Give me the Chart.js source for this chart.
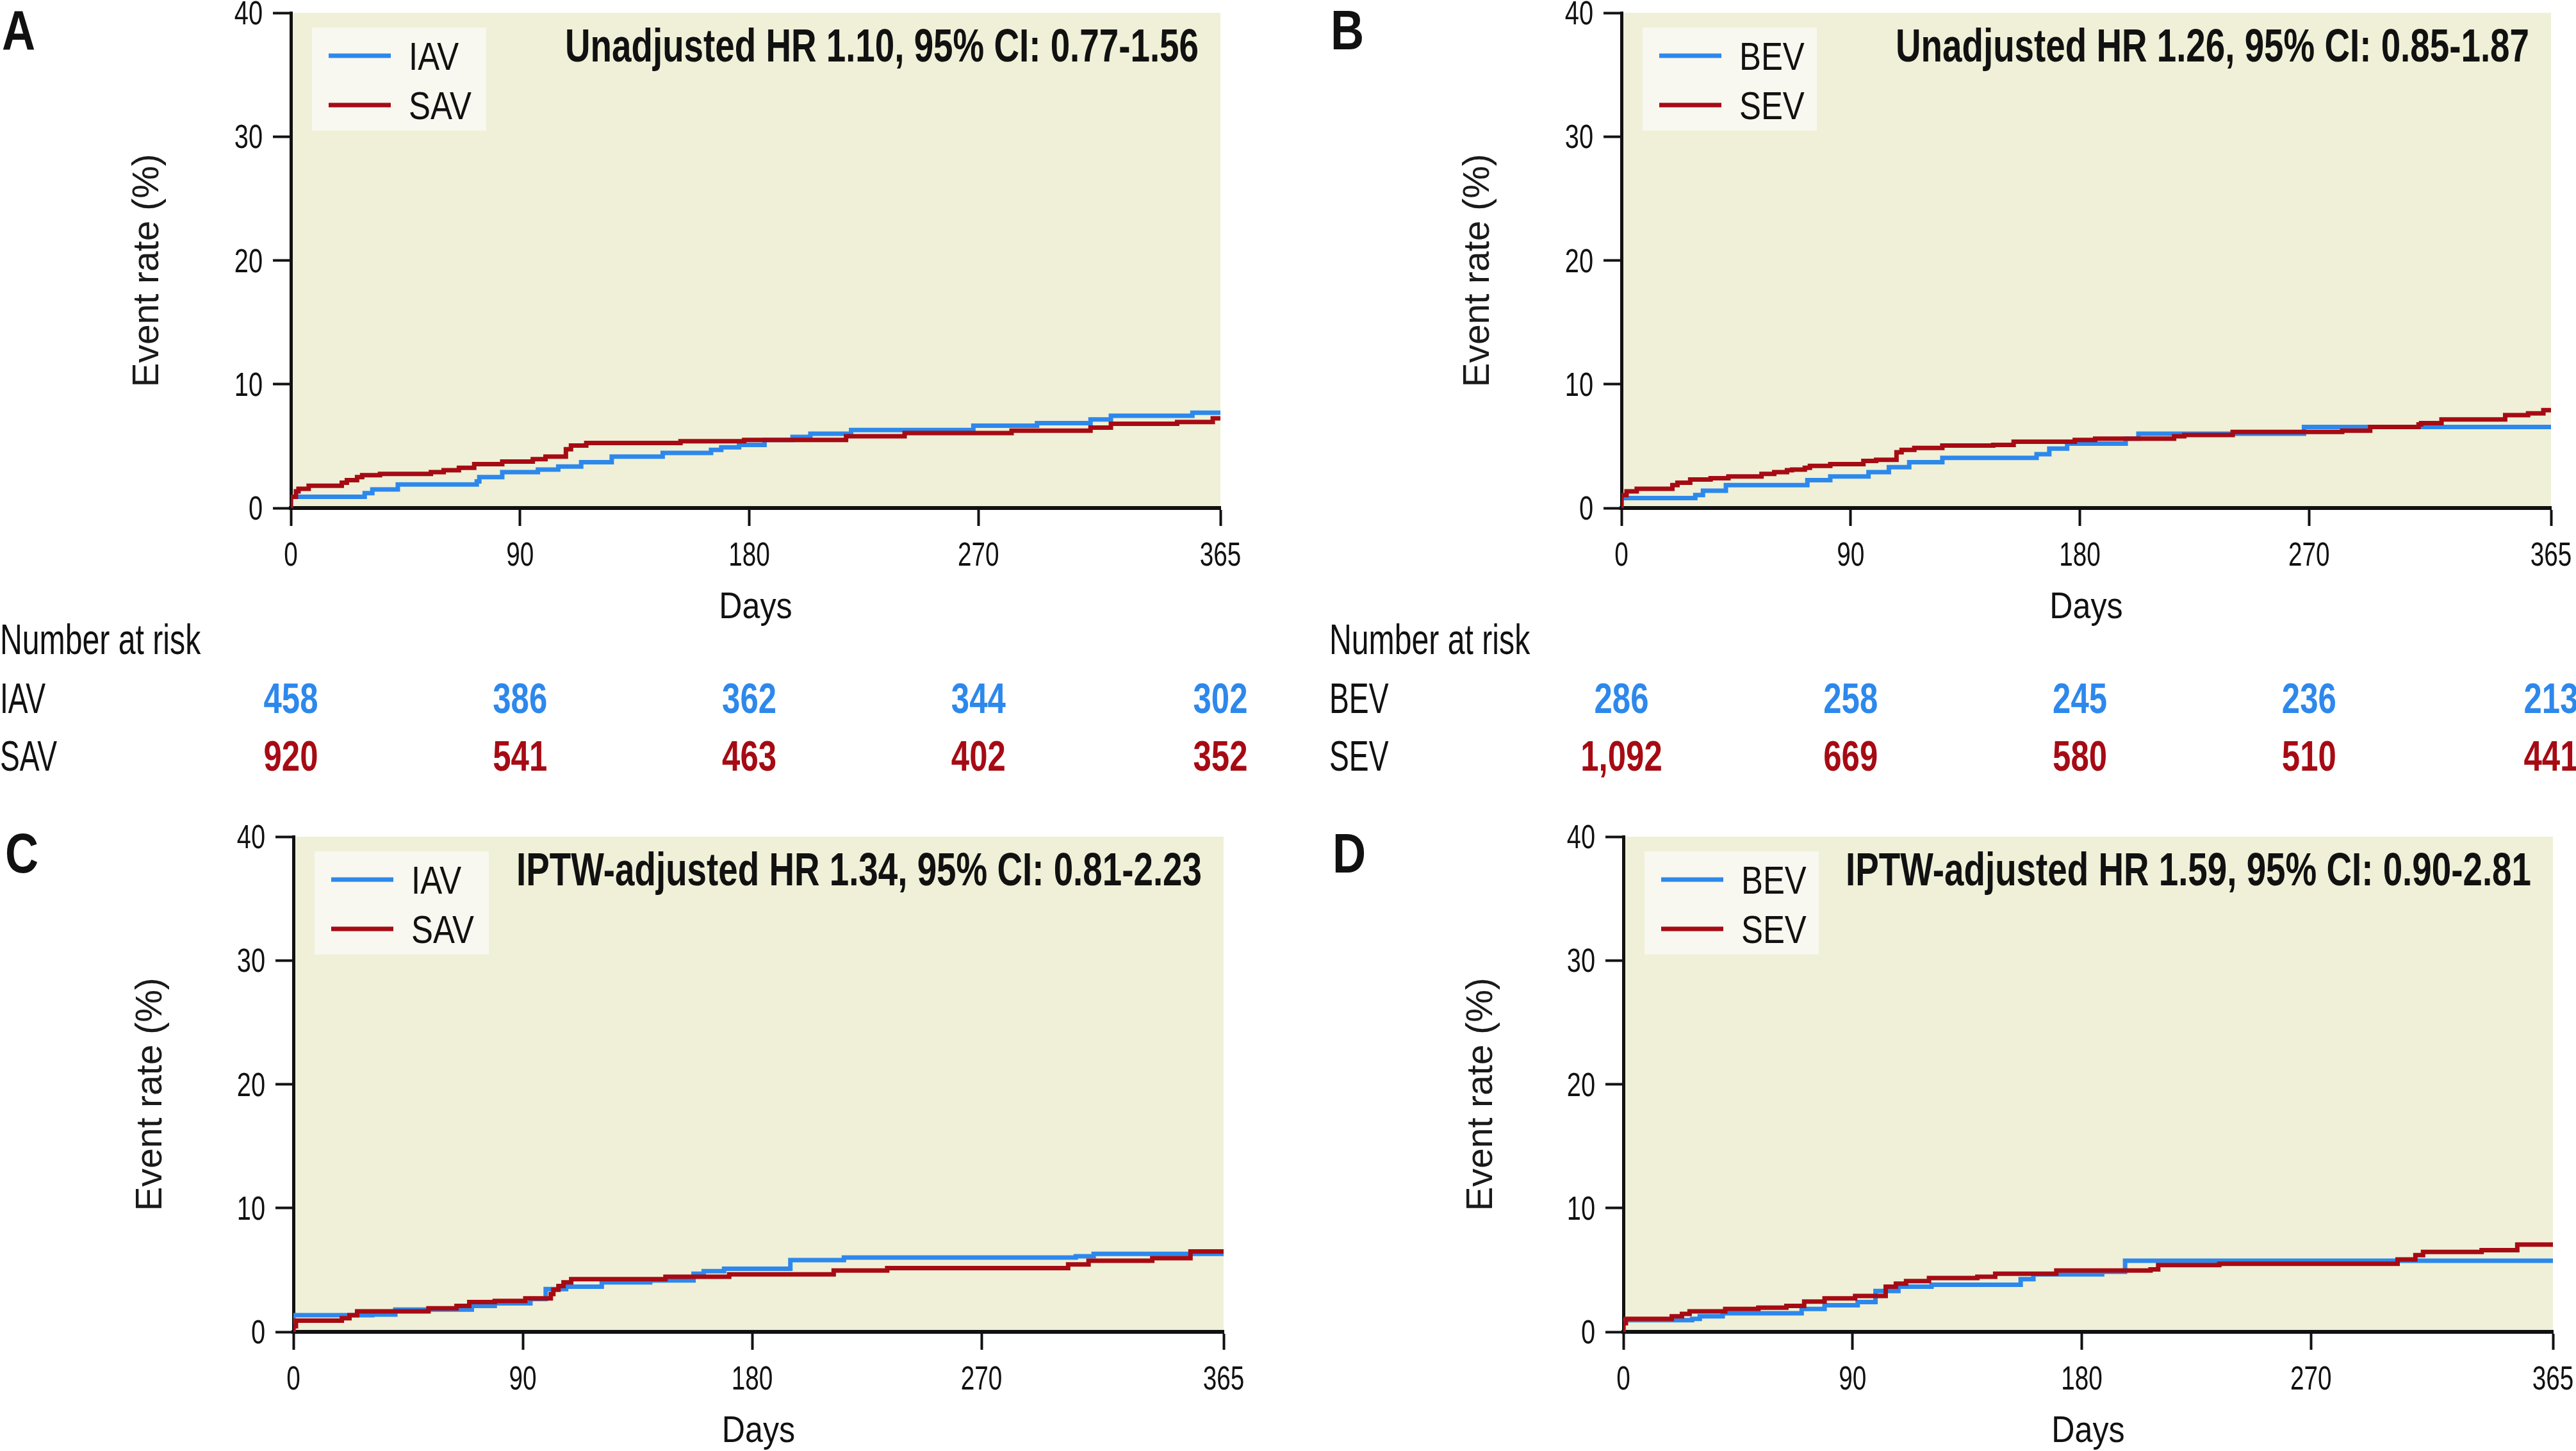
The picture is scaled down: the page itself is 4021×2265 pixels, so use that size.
<!DOCTYPE html>
<html>
<head>
<meta charset="utf-8">
<title>Event rate curves</title>
<script src="https://cdn.jsdelivr.net/npm/chart.js@4.4.1/dist/chart.umd.min.js"></script>
<style>
  body { margin: 0; background: #fff; }
  #page { position: relative; width: 4021px; height: 2265px; overflow: hidden; background: #fff; }
  canvas { position: absolute; }
</style>
</head>
<body>
<div id="page">
  <canvas id="panel-a" width="2010" height="1240" style="left:0;top:0"></canvas>
  <canvas id="panel-b" width="1956" height="1240" style="left:2065px;top:0"></canvas>
  <canvas id="panel-c" width="2010" height="1020" style="left:0;top:1245px"></canvas>
  <canvas id="panel-d" width="1956" height="1020" style="left:2065px;top:1245px"></canvas>
</div>
<script>
// axis ticks and risk table columns (days)
const tickDays = [0, 90, 180, 270, 365];

// A: unadjusted, IAV vs SAV (step points)
const aIavDays = [0, 0, 29, 32, 42, 73, 74, 83, 97, 105, 114, 126, 146, 165, 169, 176, 186, 197, 204, 220, 268, 293, 314, 322, 354, 365];
const aIavRate = [0, 0.9, 1.2, 1.5, 1.9, 2.15, 2.5, 2.9, 3.1, 3.35, 3.7, 4.15, 4.45, 4.7, 4.9, 5.1, 5.5, 5.75, 6.0, 6.3, 6.65, 6.85, 7.15, 7.45, 7.7, 7.7];
const aSavDays = [0, 0, 2, 3, 7, 20, 22, 26, 28, 35, 55, 60, 66, 72, 83, 95, 100, 108, 110, 116, 153, 178, 218, 241, 283, 314, 322, 348, 362, 365];
const aSavRate = [0, 0.9, 1.35, 1.55, 1.8, 2.05, 2.25, 2.5, 2.65, 2.75, 2.9, 3.05, 3.25, 3.55, 3.75, 3.95, 4.15, 4.75, 5.05, 5.25, 5.4, 5.5, 5.8, 6.05, 6.25, 6.5, 6.8, 6.95, 7.25, 7.25];

// B: unadjusted, BEV vs SEV
const bBevDays = [0, 0, 29, 32, 41, 73, 82, 97, 105, 113, 126, 163, 168, 175, 198, 203, 268, 365];
const bBevRate = [0, 0.8, 1.05, 1.4, 1.85, 2.25, 2.55, 2.9, 3.3, 3.7, 4.05, 4.35, 4.8, 5.2, 5.6, 6.0, 6.55, 6.55];
const bSevDays = [0, 0, 2, 6, 20, 22, 27, 35, 42, 55, 60, 65, 67, 72, 74, 82, 95, 100, 108, 110, 115, 126, 146, 154, 178, 186, 217, 221, 240, 283, 294, 313, 314, 322, 347, 356, 362, 365];
const bSevRate = [0, 1.05, 1.35, 1.55, 1.85, 2.05, 2.3, 2.4, 2.55, 2.75, 2.9, 3.05, 3.1, 3.25, 3.4, 3.55, 3.8, 3.9, 4.5, 4.7, 4.85, 5.05, 5.1, 5.35, 5.5, 5.6, 5.8, 5.9, 6.15, 6.25, 6.55, 6.75, 6.85, 7.15, 7.5, 7.65, 7.9, 7.9];

// C: IPTW-adjusted, IAV vs SAV
const cIavDays = [0, 0, 31, 40, 70, 79, 93, 99, 107, 121, 140, 157, 161, 169, 195, 216, 307, 314, 365];
const cIavRate = [0, 1.35, 1.4, 1.8, 2.1, 2.3, 2.65, 3.45, 3.65, 4.0, 4.15, 4.7, 4.9, 5.1, 5.8, 6.0, 6.1, 6.3, 6.3];
const cSavDays = [0, 0, 1, 19, 22, 25, 53, 64, 69, 79, 91, 101, 102, 104, 106, 109, 146, 171, 212, 233, 304, 312, 337, 352, 365];
const cSavRate = [0, 0.45, 0.9, 1.1, 1.35, 1.65, 1.9, 2.1, 2.4, 2.5, 2.7, 3.05, 3.4, 3.7, 4.0, 4.25, 4.45, 4.65, 4.95, 5.15, 5.45, 5.75, 5.95, 6.5, 6.5];

// D: IPTW-adjusted, BEV vs SEV
const dBevDays = [0, 0, 27, 30, 39, 70, 79, 92, 99, 108, 121, 156, 161, 188, 197, 365];
const dBevRate = [0, 0.95, 1.05, 1.25, 1.5, 1.85, 2.15, 2.4, 3.3, 3.65, 3.8, 4.25, 4.65, 4.85, 5.75, 5.75];
const dSevDays = [0, 0, 1, 19, 23, 26, 40, 53, 64, 71, 79, 91, 103, 107, 111, 120, 139, 146, 170, 207, 210, 234, 304, 311, 314, 337, 351, 365];
const dSevRate = [0, 0.7, 1.05, 1.25, 1.45, 1.65, 1.85, 1.95, 2.1, 2.45, 2.7, 2.9, 3.65, 3.9, 4.1, 4.35, 4.45, 4.7, 4.95, 5.05, 5.4, 5.5, 5.85, 6.2, 6.45, 6.6, 7.05, 7.05];

// number at risk at tickDays
const riskIav = [458, 386, 362, 344, 302];
const riskSav = [920, 541, 463, 402, 352];
const riskBev = [286, 258, 245, 236, 213];
const riskSev = [1092, 669, 580, 510, 441];

// no condensed face is installed, so condensed text is Liberation Sans squeezed sideways
const SANS = '"Liberation Sans", Arial, sans-serif';
const BLUE = '#2d88ec';
const RED = '#a60b14';
const INK = '#111111';
const PLOT_BG = '#eff0d7';
const LEGEND_BG = '#f8f8f0';

function toPoints(days, rate) {
  return days.map((d, i) => ({ x: d, y: rate[i] }));
}

function drawText(ctx, text, x, y, font, color, align, squeeze) {
  ctx.save();
  ctx.font = font;
  ctx.fillStyle = color;
  ctx.textAlign = align || 'left';
  ctx.textBaseline = 'alphabetic';
  ctx.translate(x, y);
  ctx.scale(squeeze || 1, 1);
  ctx.fillText(text, 0, 0);
  ctx.restore();
}

// light olive fill behind the curves
const plotBackground = {
  id: 'plotBackground',
  beforeDraw(chart) {
    const { ctx, chartArea: a } = chart;
    ctx.save();
    ctx.fillStyle = PLOT_BG;
    ctx.fillRect(a.left, a.top, a.right - a.left, a.bottom - a.top);
    ctx.restore();
  }
};

// tick labels and x title, condensed, placed from the chart's own scales
const axisText = {
  id: 'axisText',
  afterDraw(chart, args, opts) {
    const { ctx, chartArea: a } = chart;
    const xs = chart.scales.x;
    const ys = chart.scales.y;
    xs.ticks.forEach((t) => {
      drawText(ctx, String(t.value), xs.getPixelForValue(t.value), a.bottom + 90, `51px ${SANS}`, INK, 'center', 0.76);
    });
    ys.ticks.forEach((t) => {
      drawText(ctx, String(t.value), a.left - 44, ys.getPixelForValue(t.value) + 18, `51px ${SANS}`, INK, 'right', 0.78);
    });
    drawText(ctx, opts.xTitle, (a.left + a.right) / 2, a.bottom + 172, `57px ${SANS}`, INK, 'center', 0.88);
  }
};

// panel letter, HR text and the boxed legend
const panelDecor = {
  id: 'panelDecor',
  afterDraw(chart, args, opts) {
    const { ctx, chartArea: a } = chart;
    drawText(ctx, opts.letter, opts.letterX, opts.letterY, `bold 88px ${SANS}`, INK, 'left', 0.82);
    drawText(ctx, opts.hr, a.right - 34, a.top + 76, `bold 73px ${SANS}`, INK, 'right', 0.75);

    const bx = a.left + 33;
    const by = a.top + 23;
    ctx.save();
    ctx.fillStyle = LEGEND_BG;
    ctx.fillRect(bx, by, 272, 161);
    chart.data.datasets.forEach((ds, i) => {
      const ly = by + 44 + i * 77;
      ctx.strokeStyle = ds.borderColor;
      ctx.lineWidth = 7;
      ctx.beginPath();
      ctx.moveTo(bx + 26, ly);
      ctx.lineTo(bx + 123, ly);
      ctx.stroke();
      drawText(ctx, ds.label, bx + 151, ly + 22, `62px ${SANS}`, INK, 'left', 0.82);
    });
    ctx.restore();
  }
};

// "Number at risk" rows under the top panels, placed on the x scale
const riskTable = {
  id: 'riskTable',
  afterDraw(chart, args, opts) {
    if (!opts.rows) return;
    const { ctx } = chart;
    const xs = chart.scales.x;
    drawText(ctx, 'Number at risk', opts.labelX, opts.headerY, `66px ${SANS}`, INK, 'left', 0.73);
    opts.rows.forEach((row, i) => {
      const y = opts.rowY[i];
      drawText(ctx, row.name, opts.labelX, y, `66px ${SANS}`, INK, 'left', 0.7);
      row.counts.forEach((n, j) => {
        drawText(ctx, n.toLocaleString('en-US'), xs.getPixelForValue(tickDays[j]), y,
          `bold 67px ${SANS}`, row.color, 'center', 0.76);
      });
    });
  }
};

function populatePanel(canvasId, p) {
  const canvas = document.getElementById(canvasId);
  const area = p.area;
  const tickMarks = { display: true, drawOnChartArea: false, drawTicks: true, tickLength: 28, tickWidth: 4, tickColor: INK };
  new Chart(canvas, {
    type: 'line',
    data: {
      datasets: [
        {
          label: p.names[0],
          data: toPoints(p.blue[0], p.blue[1]),
          borderColor: BLUE,
          borderWidth: 7,
          stepped: true,
          pointRadius: 0,
          fill: false,
          order: 2,
        },
        {
          label: p.names[1],
          data: toPoints(p.red[0], p.red[1]),
          borderColor: RED,
          borderWidth: 7,
          stepped: true,
          pointRadius: 0,
          fill: false,
          order: 1,
        },
      ],
    },
    options: {
      responsive: false,
      animation: false,
      events: [],
      layout: {
        autoPadding: false,
        padding: {
          left: 0,
          top: area.top,
          right: canvas.width - area.right,
          bottom: canvas.height - area.bottom - p.xAxisHeight,
        },
      },
      scales: {
        x: {
          type: 'linear',
          min: 0,
          max: 365,
          afterBuildTicks: (s) => { s.ticks = tickDays.map((v) => ({ value: v })); },
          afterFit: (s) => { s.height = p.xAxisHeight; },
          border: { display: true, color: INK, width: 6 },
          grid: tickMarks,
          ticks: { display: false },
        },
        y: {
          min: 0,
          max: 40,
          afterFit: (s) => { s.width = area.left; },
          border: { display: true, color: INK, width: 5 },
          grid: tickMarks,
          ticks: { display: false, stepSize: 10 },
          title: {
            display: true,
            // trailing spaces nudge the centred title toward the bottom, as in the source
            text: 'Event rate (%)  ',
            color: '#1a1a1a',
            font: { family: SANS, size: 57, lineHeight: 1.2 },
            padding: { top: p.yTitlePad, bottom: 0 },
          },
        },
      },
      plugins: {
        legend: { display: false },
        tooltip: { enabled: false },
        axisText: { xTitle: 'Days' },
        panelDecor: { letter: p.letter, letterX: p.letterX, letterY: p.letterY, hr: p.hr },
        riskTable: p.risk || {},
      },
    },
    plugins: [plotBackground, axisText, panelDecor, riskTable],
  });
}

populatePanel('panel-a', {
  letter: 'A', letterX: 3, letterY: 77,
  hr: 'Unadjusted HR 1.10, 95% CI: 0.77-1.56',
  names: ['IAV', 'SAV'],
  blue: [aIavDays, aIavRate],
  red: [aSavDays, aSavRate],
  area: { left: 454, right: 1905, top: 20, bottom: 793 },
  xAxisHeight: 190,
  yTitlePad: 197,
  risk: {
    labelX: 0, headerY: 1021, rowY: [1113, 1203],
    rows: [
      { name: 'IAV', counts: riskIav, color: BLUE },
      { name: 'SAV', counts: riskSav, color: RED },
    ],
  },
});

populatePanel('panel-b', {
  letter: 'B', letterX: 12, letterY: 77,
  hr: 'Unadjusted HR 1.26, 95% CI: 0.85-1.87',
  names: ['BEV', 'SEV'],
  blue: [bBevDays, bBevRate],
  red: [bSevDays, bSevRate],
  area: { left: 466, right: 1917, top: 20, bottom: 793 },
  xAxisHeight: 190,
  yTitlePad: 209,
  risk: {
    labelX: 10, headerY: 1021, rowY: [1113, 1203],
    rows: [
      { name: 'BEV', counts: riskBev, color: BLUE },
      { name: 'SEV', counts: riskSev, color: RED },
    ],
  },
});

populatePanel('panel-c', {
  letter: 'C', letterX: 8, letterY: 117,
  hr: 'IPTW-adjusted HR 1.34, 95% CI: 0.81-2.23',
  names: ['IAV', 'SAV'],
  blue: [cIavDays, cIavRate],
  red: [cSavDays, cSavRate],
  area: { left: 458, right: 1910, top: 61, bottom: 834 },
  xAxisHeight: 186,
  yTitlePad: 202,
});

populatePanel('panel-d', {
  letter: 'D', letterX: 15, letterY: 117,
  hr: 'IPTW-adjusted HR 1.59, 95% CI: 0.90-2.81',
  names: ['BEV', 'SEV'],
  blue: [dBevDays, dBevRate],
  red: [dSevDays, dSevRate],
  area: { left: 469, right: 1920, top: 61, bottom: 834 },
  xAxisHeight: 186,
  yTitlePad: 214,
});
</script>
</body>
</html>
